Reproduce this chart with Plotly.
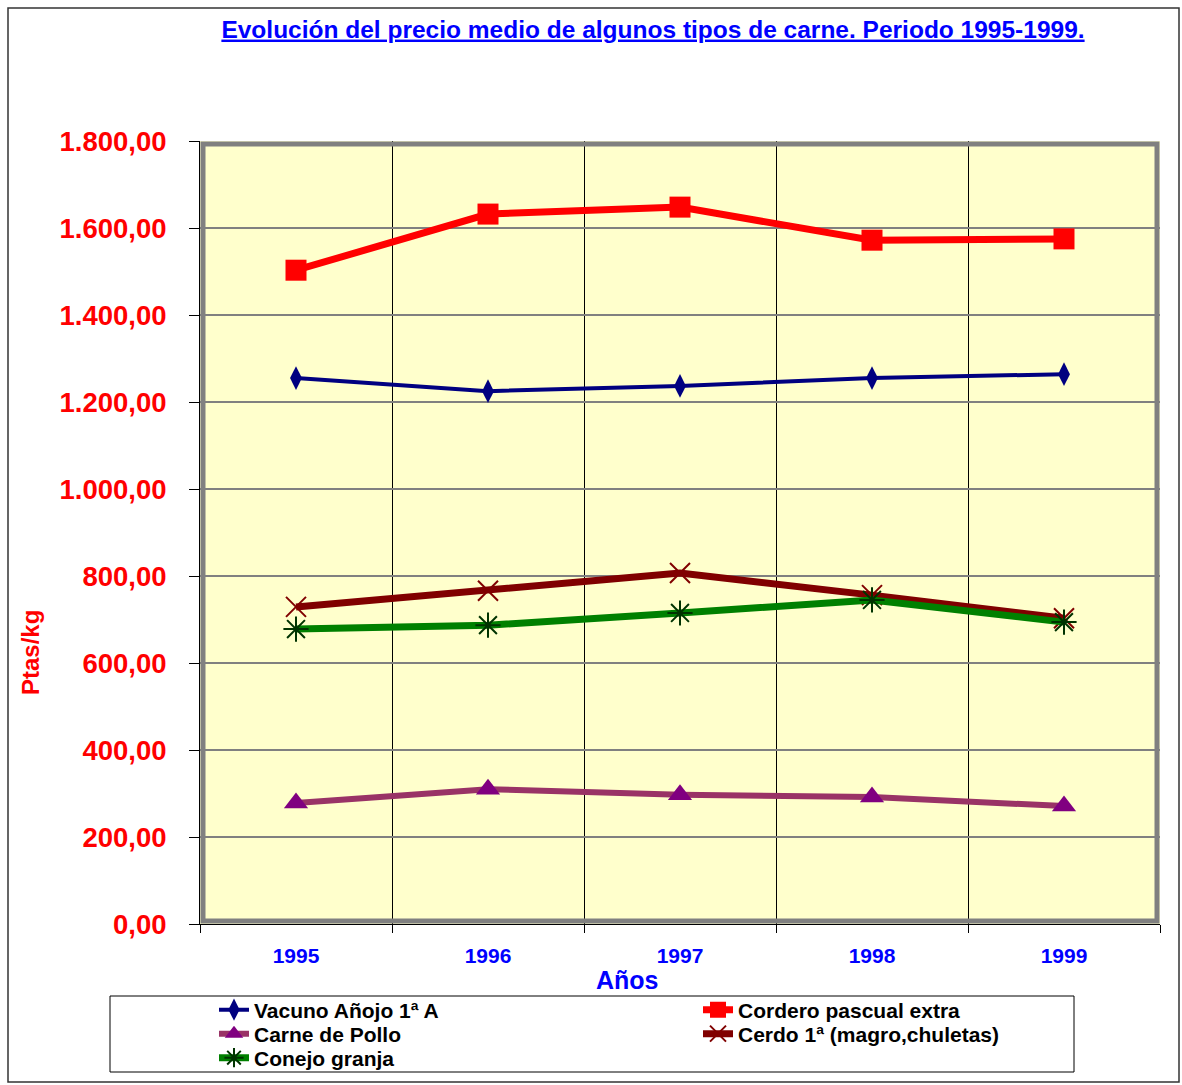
import plotly.graph_objects as go

# ---------------- data ----------------
years = ["1995", "1996", "1997", "1998", "1999"]
vacuno = [1255, 1225, 1237, 1255, 1264]
cordero = [1503, 1632, 1648, 1572, 1575]
pollo = [278, 310, 297, 292, 271]
cerdo = [729, 766, 807, 756, 703]
conejo = [678, 687, 715, 745, 694]

title_text = "Evolución del precio medio de algunos tipos de carne. Periodo 1995-1999."
x_title = "Años"
y_title = "Ptas/kg"

# ---------------- layout geometry ----------------
W, H = 1182, 1085
L, R, T, B = 200, 22, 141, 161
PW, PH = W - L - R, H - T - B


def px_x(px):
    return (px - L) / PW


def px_y(py):
    return (H - B - py) / PH


FONT = "Liberation Sans, Arial, sans-serif"

fig = go.Figure()

fig.add_trace(go.Scatter(
    x=years, y=vacuno, name="Vacuno Añojo 1ª A", mode="lines+markers",
    line=dict(color="#000080", width=4),
    marker=dict(symbol="diamond-tall", size=17, color="#000080"),
    legend="legend"))
fig.add_trace(go.Scatter(
    x=years, y=cordero, name="Cordero pascual extra", mode="lines+markers",
    line=dict(color="#FF0000", width=7),
    marker=dict(symbol="square", size=21, color="#FF0000"),
    legend="legend2"))
fig.add_trace(go.Scatter(
    x=years, y=pollo, name="Carne de Pollo", mode="lines+markers",
    line=dict(color="#993366", width=6),
    marker=dict(symbol="triangle-up", size=21, color="#800080"),
    legend="legend3"))
fig.add_trace(go.Scatter(
    x=years, y=cerdo, name="Cerdo 1ª (magro,chuletas)", mode="lines+markers",
    line=dict(color="#800000", width=7),
    marker=dict(symbol="x-thin-open", size=20, color="#800000",
                line=dict(color="#800000", width=2)),
    legend="legend4"))
fig.add_trace(go.Scatter(
    x=years, y=conejo, name="Conejo granja", mode="lines+markers",
    line=dict(color="#008000", width=7),
    marker=dict(symbol="asterisk-open", size=21, color="#003300",
                line=dict(color="#003300", width=2)),
    legend="legend5"))

legend_common = dict(
    orientation="v", xanchor="left", yanchor="middle",
    font=dict(family=FONT, size=21, color="black", weight="bold"),
    bgcolor="rgba(0,0,0,0)", borderwidth=0, tracegroupgap=0,
    itemclick=False, itemdoubleclick=False,
)
col1_x, col2_x = 214, 698
row_y = [1010, 1034, 1058]

fig.update_layout(
    width=W, height=H,
    margin=dict(l=L, r=R, t=T, b=B, pad=0, autoexpand=False),
    paper_bgcolor="white",
    plot_bgcolor="#FFFFCC",
    separators=",.",
    showlegend=True,
    title=dict(
        text="<u>" + title_text + "</u>",
        x=653 / W, xref="container", xanchor="center",
        y=1 - 29 / H, yref="container", yanchor="middle",
        font=dict(family=FONT, size=24.5, color="#0000FF", weight="bold"),
    ),
    legend=dict(x=px_x(col1_x), y=px_y(row_y[0]), **legend_common),
    legend2=dict(x=px_x(col2_x), y=px_y(row_y[0]), **legend_common),
    legend3=dict(x=px_x(col1_x), y=px_y(row_y[1]), **legend_common),
    legend4=dict(x=px_x(col2_x), y=px_y(row_y[1]), **legend_common),
    legend5=dict(x=px_x(col1_x), y=px_y(row_y[2]), **legend_common),
    xaxis=dict(
        type="category",
        range=[-0.5, 4.5],
        tickson="boundaries",
        ticks="outside", ticklen=8, tickwidth=1, tickcolor="black",
        showgrid=True, gridcolor="black", gridwidth=1,
        showline=True, linecolor="black", linewidth=1,
        tickfont=dict(family=FONT, size=21, color="#0000FF", weight="bold"),
        ticklabelstandoff=13,
        zeroline=False,
        fixedrange=True,
    ),
    yaxis=dict(
        range=[0, 1800],
        tick0=0, dtick=200,
        tickformat=",.2f",
        ticks="outside", ticklen=10, tickwidth=1, tickcolor="black",
        showgrid=True, gridcolor="#808080", gridwidth=2,
        showline=True, linecolor="black", linewidth=1,
        tickfont=dict(family=FONT, size=27.5, color="#FF0000", weight="bold"),
        ticklabelstandoff=17,
        zeroline=False,
        fixedrange=True,
    ),
    annotations=[
        dict(text=x_title, xref="paper", yref="paper",
             x=px_x(627), y=px_y(980), xanchor="center", yanchor="middle",
             showarrow=False,
             font=dict(family=FONT, size=25, color="#0000FF", weight="bold")),
        dict(text=y_title, xref="paper", yref="paper",
             x=px_x(30), y=px_y(653), xanchor="center", yanchor="middle",
             textangle=-90, showarrow=False,
             font=dict(family=FONT, size=24, color="#FF0000", weight="bold")),
    ],
    shapes=[
        # outer chart frame
        dict(type="rect", xref="paper", yref="paper",
             x0=px_x(8), x1=px_x(1179), y0=px_y(1082), y1=px_y(8),
             line=dict(color="#333333", width=1.5), layer="below"),
        # gray plot-area border
        dict(type="rect", xref="paper", yref="paper",
             x0=3 / PW, x1=1 - 3 / PW, y0=3 / PH, y1=1 - 3 / PH,
             line=dict(color="#808080", width=5), layer="above"),
        # legend box
        dict(type="rect", xref="paper", yref="paper",
             x0=px_x(110), x1=px_x(1074), y0=px_y(1072), y1=px_y(996),
             line=dict(color="black", width=1), layer="below"),
    ],
)

fig.write_html("out.html", config={"displayModeBar": False},
               post_script="document.body.style.margin='0';")
